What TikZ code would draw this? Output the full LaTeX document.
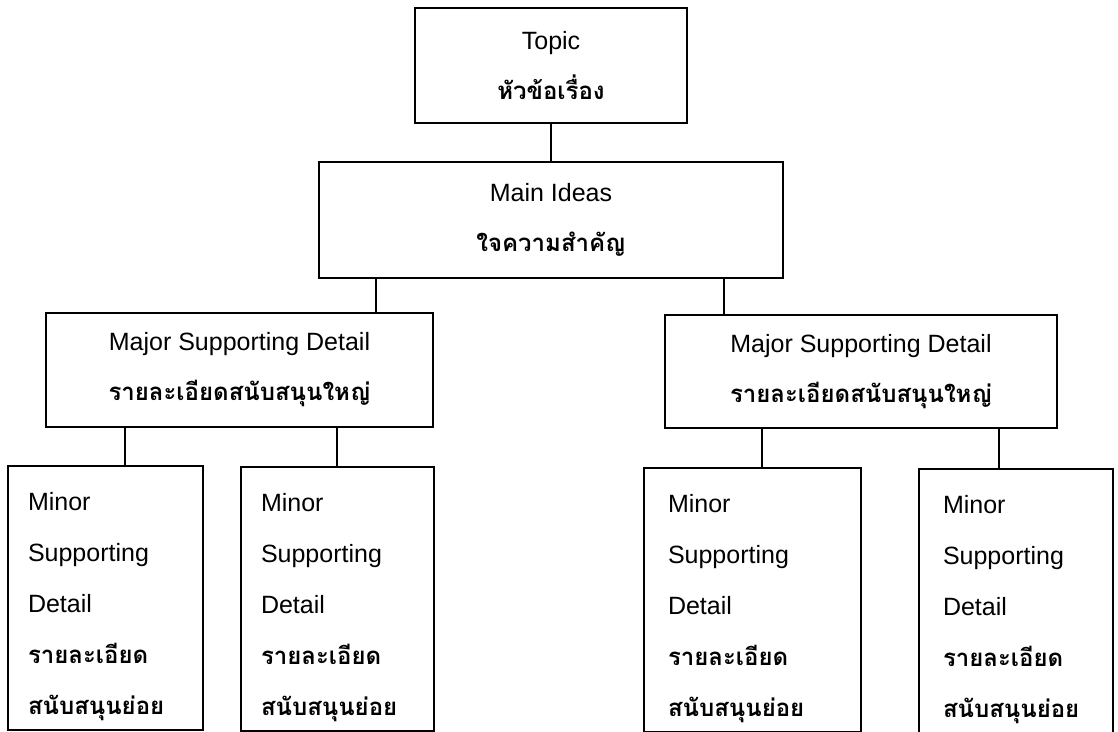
\documentclass[tikz,border=0pt]{standalone}
\usepackage{fontspec}
\setmainfont{Liberation Sans}
\newfontfamily\thaifont[Script=Thai]{Loma}
\usepackage{tikz}
\usetikzlibrary{positioning,calc}
\tikzstyle{box1} = [rectangle, draw, line width=2pt, %
   text centered, align=center, font=\fontsize{25}{50}\selectfont]
\tikzstyle{box2} = [rectangle, draw, line width=2pt, anchor=north west, %
   align=left, inner ysep=0pt, inner xsep=20pt, text height=44pt, text depth=220pt, %
   font=\fontsize{25}{51}\selectfont]
\tikzstyle{line} = [draw, line width=2pt]
\newcommand{\thtxt}[1]{{\thaifont\bfseries\fontsize{24}{51}\selectfont #1}}

\begin{document}
\begin{tikzpicture}[x=1pt,y=-1pt]
   \clip (0,0) rectangle (1118,731);
   % Place nodes
   \node[box1, minimum width=272pt, minimum height=115pt](topic) at (551,65.5){%
      Topic\\\thtxt{หัวข้อเรื่อง}};
   \node[box1, below=37pt of topic, minimum width=464pt, minimum height=116pt](mainidea){%
      Main Ideas\\\thtxt{ใจความสำคัญ}};

   % MAJOR DETAILS %%%%%%%%%%%%%%%%%%%%%%%%%%%%%%%%%%%%%%%%%%%%%%%%%%%%%%
   \node[box1, minimum width=387pt, minimum height=114pt](majorL) at (239.5,370){%
      Major Supporting Detail\\\thtxt{รายละเอียดสนับสนุนใหญ่}};
   \node[box1, minimum width=392pt, minimum height=113pt](majorR) at (861,371.5){%
      Major Supporting Detail\\\thtxt{รายละเอียดสนับสนุนใหญ่}};

   % MINOR DETAILS %%%%%%%%%%%%%%%%%%%%%%%%%%%%%%%%%%%%%%%%%%%%%%%%%%%%%%
   \node[box2, text width=155pt](minorA) at (7,465){%
      Minor\\Supporting\\Detail\\\thtxt{รายละเอียด}\\\thtxt{สนับสนุนย่อย}};
   \node[box2, text width=153pt](minorB) at (240,466){%
      Minor\\Supporting\\Detail\\\thtxt{รายละเอียด}\\\thtxt{สนับสนุนย่อย}};
   \node[box2, text width=169pt, inner xsep=24pt](minorC) at (643,467){%
      Minor\\Supporting\\Detail\\\thtxt{รายละเอียด}\\\thtxt{สนับสนุนย่อย}};
   \node[box2, text width=146pt, inner xsep=24pt](minorD) at (918,468){%
      Minor\\Supporting\\Detail\\\thtxt{รายละเอียด}\\\thtxt{สนับสนุนย่อย}};

   % Draw edges
   \path [line] (topic) -- (mainidea);
   \path [line] ([xshift=-175pt]mainidea.south) -- ([xshift=-175pt]mainidea.south |- majorL.north);
   \path [line] ([xshift=173pt]mainidea.south) -- ([xshift=173pt]mainidea.south |- majorR.north);
   \path [line] ([xshift=-114.5pt]majorL.south) -- ([xshift=-114.5pt]majorL.south |- minorA.north);
   \path [line] ([xshift=97.5pt]majorL.south) -- ([xshift=97.5pt]majorL.south |- minorB.north);
   \path [line] ([xshift=-99pt]majorR.south) -- ([xshift=-99pt]majorR.south |- minorC.north);
   \path [line] ([xshift=138pt]majorR.south) -- ([xshift=138pt]majorR.south |- minorD.north);
\end{tikzpicture}
\end{document}
